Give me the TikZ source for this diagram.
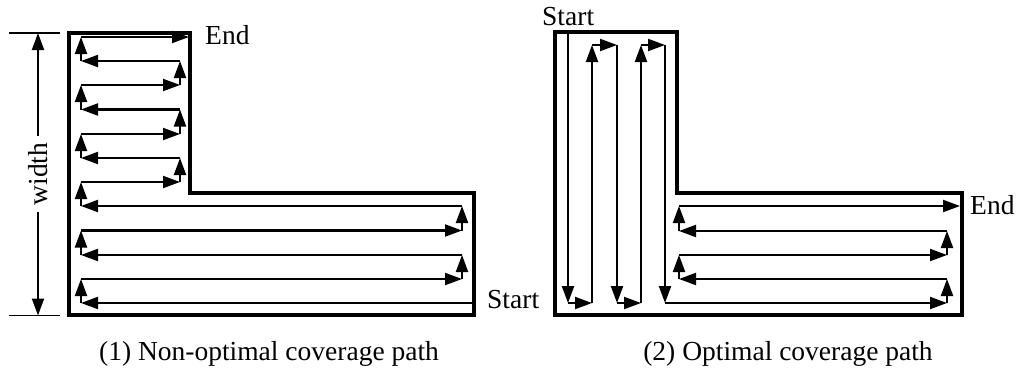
\documentclass[tikz,border=0pt]{standalone}
\usepackage{fontspec}
\setmainfont{Liberation Serif}
\usetikzlibrary{arrows.meta}
\tikzset{
  wall/.style={line width=4pt, line join=miter},
  trk/.style={line width=2.1pt, line cap=square, -{Triangle[length=17pt,width=12pt]}},
  dimtick/.style={line width=1.6pt},
  dimarr/.style={line width=2pt, -{Triangle[length=17pt,width=12pt]}},
  lbl/.style={inner sep=0pt, font=\fontsize{27.5}{30}\selectfont}
}
\begin{document}
\begin{tikzpicture}[x=1pt,y=-1pt]
\useasboundingbox (0,0) rectangle (1017,372);
% ---------- left figure ----------
\draw[wall] (69,33) -- (190,33) -- (190,193) -- (474,193) -- (474,315) -- (69,315) -- cycle;
% dimension
\coordinate (dt) at (38,33);
\coordinate (db) at (38,315.5);
\draw[dimtick] (9,33) -- (60,33);
\draw[dimtick] (9,315.5) -- (60,315.5);
\node[lbl, rotate=90, inner sep=6pt] (w) at (38,174) {width};
\draw[dimarr] (w.east) -- (dt);
\draw[dimarr] (w.west) -- (db);
% path
\draw[trk] (474,303) -- (81,303);
\foreach \a/\b in {303/279, 255/230.5, 206/182, 158/134, 109.5/85, 61/37}
  \draw[trk] (81,\a) -- (81,\b);
\foreach \a/\b in {279/255, 230.5/206}
  \draw[trk] (462,\a) -- (462,\b);
\foreach \a/\b in {182/158, 134/109.5, 85/61}
  \draw[trk] (180,\a) -- (180,\b);
\foreach \y in {279, 230.5}
  \draw[trk] (81,\y) -- (462,\y);
\foreach \y in {255, 206}
  \draw[trk] (462,\y) -- (81,\y);
\foreach \y in {182, 134, 85}
  \draw[trk] (81,\y) -- (180,\y);
\foreach \y in {158, 109.5, 61}
  \draw[trk] (180,\y) -- (81,\y);
\draw[trk] (81,37) -- (189,37);
\node[lbl, anchor=base west] (end1) at (205,44) {End};
\node[lbl, anchor=base west] (start1) at (487,308) {Start};
\node[lbl, anchor=base] (cap1) at (269,360) {(1) Non-optimal coverage path};
% ---------- right figure ----------
\draw[wall] (555,32) -- (677,32) -- (677,193) -- (962,193) -- (962,315) -- (555,315) -- cycle;
\draw[trk] (568,32) -- (568,303);
\draw[trk] (568,303) -- (592,303);
\draw[trk] (592,303) -- (592,45);
\draw[trk] (592,45) -- (617,45);
\draw[trk] (617,45) -- (617,303);
\draw[trk] (617,303) -- (641,303);
\draw[trk] (641,303) -- (641,45);
\draw[trk] (641,45) -- (665,45);
\draw[trk] (665,45) -- (665,303);
\draw[trk] (665,303) -- (947,303);
\draw[trk] (947,303) -- (947,279);
\draw[trk] (947,279) -- (679,279);
\draw[trk] (679,279) -- (679,255);
\draw[trk] (679,255) -- (947,255);
\draw[trk] (947,255) -- (947,231);
\draw[trk] (947,231) -- (679,231);
\draw[trk] (679,231) -- (679,206);
\draw[trk] (679,206) -- (960,206);
\node[lbl, anchor=base west] (start2) at (542,25) {Start};
\node[lbl, anchor=base west] (end2) at (970,214) {End};
\node[lbl, anchor=base] (cap2) at (788,360) {(2) Optimal coverage path};
\end{tikzpicture}
\end{document}
